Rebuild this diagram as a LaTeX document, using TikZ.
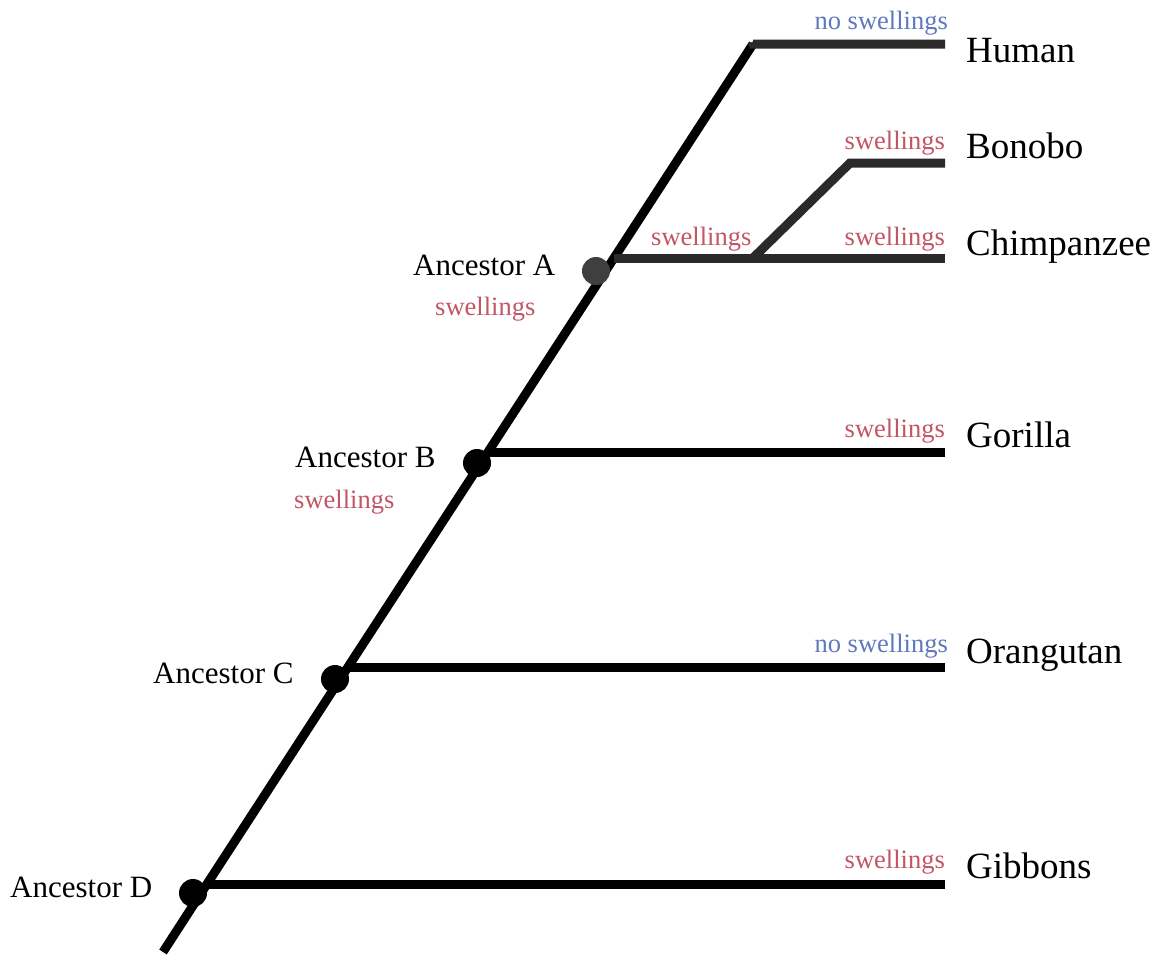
\documentclass[tikz,border=0pt]{standalone}
\usepackage{fontspec}
\setmainfont{Liberation Serif}
\definecolor{swred}{HTML}{C25566}
\definecolor{swblue}{HTML}{5F78BE}
\definecolor{darkbranch}{HTML}{2A2A2A}
\begin{document}
\begin{tikzpicture}[x=1pt,y=-1pt,
  branch/.style={line width=9pt,line cap=butt,line join=miter,draw=black},
  topbranch/.style={branch,draw=darkbranch},
  ancdot/.style={circle,fill=black,minimum size=28pt,inner sep=0pt},
  taxon/.style={anchor=base west,inner sep=0pt,font=\fontsize{37}{37}\selectfont},
  anclabel/.style={anchor=base west,inner sep=0pt,font=\fontsize{31}{31}\selectfont},
  swlabel/.style={inner sep=0pt,text=swred,font=\fontsize{26.5}{26.5}\selectfont},
  noswlabel/.style={inner sep=0pt,text=swblue,font=\fontsize{26.5}{26.5}\selectfont}]
\useasboundingbox (0,0) rectangle (1164,956);

% junction coordinates on the trunk
\coordinate (bottom) at (163,952);
\coordinate (jD) at (207,884);
\coordinate (jC) at (348,667);
\coordinate (jB) at (488,452);
\coordinate (jA) at (614,258);
\coordinate (jH) at (753,44);
\coordinate (jBC) at (753,258);
\coordinate (jBo) at (850,163);
% branch ends
\coordinate (eHuman) at (945,44);
\coordinate (eBonobo) at (945,163);
\coordinate (eChimp) at (945,258);
\coordinate (eGorilla) at (945,452);
\coordinate (eOrang) at (945,667);
\coordinate (eGibbon) at (945,884);

% trunk
\draw[branch] (bottom) -- (jD) -- (jC) -- (jB) -- (jA) -- (jH);
\draw[topbranch] ([xshift=-1pt,yshift=2pt]jH) -- (jH) -- (eHuman);
% side branches
\draw[branch] (jD) -- (eGibbon);
\draw[branch] (jC) -- (eOrang);
\draw[branch] (jB) -- (eGorilla);
\draw[topbranch] (jA) -- (eChimp);
\draw[topbranch] (jBC) -- (jBo) -- (eBonobo);

% ancestor dots
\node[ancdot] (dD) at (193,893) {};
\node[ancdot] (dC) at (335,679) {};
\node[ancdot] (dB) at (477,463) {};
\node[ancdot,fill=darkbranch!90] (dA) at (596,271) {};

% taxa
\node[taxon] (human) at (966,62) {Human};
\node[taxon] (bonobo) at (966,158) {Bonobo};
\node[taxon] (chimp) at (966,255) {Chimpanzee};
\node[taxon] (gorilla) at (966,447) {Gorilla};
\node[taxon] (orang) at (966,663) {Orangutan};
\node[taxon] (gibbon) at (966,878) {Gibbons};

% trait labels at branch ends
\node[noswlabel,anchor=base east] (tHuman) at (948,29) {no swellings};
\node[swlabel,anchor=base east] (tBonobo) at (945,149) {swellings};
\node[swlabel,anchor=base east] (tChimp) at (945,245) {swellings};
\node[swlabel,anchor=base west] (tBC) at (651,245) {swellings};
\node[swlabel,anchor=base east] (tGorilla) at (945,437) {swellings};
\node[noswlabel,anchor=base east] (tOrang) at (948,652) {no swellings};
\node[swlabel,anchor=base east] (tGibbon) at (945,868) {swellings};

% ancestors
\node[anclabel] (aA) at (413,275) {Ancestor A};
\node[swlabel,anchor=base west] (sA) at (435,315) {swellings};
\node[anclabel] (aB) at (295,467) {Ancestor B};
\node[swlabel,anchor=base west] (sB) at (294,508) {swellings};
\node[anclabel] (aC) at (153,683) {Ancestor C};
\node[anclabel] (aD) at (10,897) {Ancestor D};
\end{tikzpicture}
\end{document}
